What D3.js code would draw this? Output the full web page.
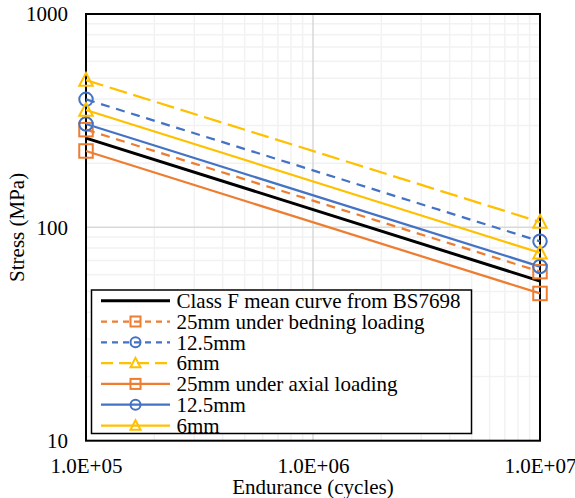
<!DOCTYPE html>
<html>
<head>
<meta charset="utf-8">
<script src="https://cdn.jsdelivr.net/npm/d3@7"></script>
<style>
  body { margin: 0; background: #fff; }
</style>
</head>
<body>
<div id="chart"></div>
<script>
// Chart size
var width = 575;
var height = 498;
var margin = { top: 14, right: 35, bottom: 57.3, left: 86 };
var fontFamily = "Liberation Serif";
var fontSize = "21px";

// Data
var cycles = [1e5, 1e7];
var seriesNames = [
    "Class F mean curve from BS7698",
    "25mm under bedning loading",
    "12.5mm",
    "6mm",
    "25mm under axial loading",
    "12.5mm",
    "6mm"
];
var seriesValues = [
    [262, 56],
    [287, 62],
    [398, 86],
    [490, 106],
    [228, 49],
    [305, 65.5],
    [355, 76]
];
var seriesColors = ["#000000", "#ED7D31", "#4472C4", "#FFC000", "#ED7D31", "#4472C4", "#FFC000"];
var seriesDash = [null, "9,6.75", "9,6.75", "18,6.75", null, null, null];
var legendDash = [null, "6,5", "6,5", "12,6", null, null, null];
var seriesMarker = [null, "square", "circle", "triangle", "square", "circle", "triangle"];
var xTicks = [1e5, 1e6, 1e7];
var yTicks = [10, 100, 1000];

var svg = d3.select("#chart")
    .append("svg")
    .attr("width", width)
    .attr("height", height)
    .attr("font-family", fontFamily);

var x = d3.scaleLog()
    .domain([1e5, 1e7])
    .range([margin.left, width - margin.right]);
var y = d3.scaleLog()
    .domain([10, 1000])
    .range([height - margin.bottom, margin.top]);

// Minor and major gridlines
var minorX = [], minorY = [];
[1e5, 1e6].forEach(function(d) { for (var k = 2; k < 10; k++) minorX.push(d * k); });
[10, 100].forEach(function(d) { for (var k = 2; k < 10; k++) minorY.push(d * k); });

var grid = svg.append("g");
grid.selectAll(".mx").data(minorX).enter().append("line")
    .attr("x1", function(d) { return x(d); }).attr("x2", function(d) { return x(d); })
    .attr("y1", y(10)).attr("y2", y(1000))
    .attr("stroke", "#f2f2f2").attr("stroke-width", 1.5);
grid.selectAll(".my").data(minorY).enter().append("line")
    .attr("y1", function(d) { return y(d); }).attr("y2", function(d) { return y(d); })
    .attr("x1", x(1e5)).attr("x2", x(1e7))
    .attr("stroke", "#f2f2f2").attr("stroke-width", 1.5);
grid.append("line")
    .attr("x1", x(1e6)).attr("x2", x(1e6)).attr("y1", y(10)).attr("y2", y(1000))
    .attr("stroke", "#d9d9d9").attr("stroke-width", 1.5);
grid.append("line")
    .attr("y1", y(100)).attr("y2", y(100)).attr("x1", x(1e5)).attr("x2", x(1e7))
    .attr("stroke", "#d9d9d9").attr("stroke-width", 1.5);

// Plot frame
svg.append("rect")
    .attr("x", x(1e5)).attr("y", y(1000))
    .attr("width", x(1e7) - x(1e5)).attr("height", y(10) - y(1000))
    .attr("fill", "none").attr("stroke", "#000").attr("stroke-width", 2);

// Axes labels
var xAxis = svg.append("g")
    .attr("transform", "translate(0," + (y(10) + 14.5) + ")")
    .call(d3.axisBottom(x).tickValues(xTicks).tickSize(0)
        .tickFormat(function(d) { return d.toExponential(1).replace("e+", "E+0"); }));
xAxis.attr("font-family", fontFamily).attr("font-size", fontSize);
xAxis.select(".domain").remove();
xAxis.selectAll("text").attr("fill", "#000");

var yAxis = svg.append("g")
    .attr("transform", "translate(" + (x(1e5) - 15) + ",0)")
    .call(d3.axisLeft(y).tickValues(yTicks).tickSize(0).tickFormat(d3.format("d")));
yAxis.attr("font-family", fontFamily).attr("font-size", fontSize);
yAxis.select(".domain").remove();
yAxis.selectAll("text").attr("fill", "#000");

svg.append("text")
    .attr("x", x(1e6)).attr("y", 493.5)
    .attr("text-anchor", "middle").attr("font-size", fontSize)
    .text("Endurance (cycles)");
svg.append("text")
    .attr("transform", "translate(17," + ((y(10) + y(1000)) / 2) + ") rotate(-90)")
    .attr("dy", "0.35em")
    .attr("text-anchor", "middle").attr("font-size", fontSize)
    .text("Stress (MPa)");

// Marker drawing
function drawMarker(g, type, cx, cy, size, color) {
    var s = size / 2;
    if (type === "square") {
        g.append("rect").attr("x", cx - s).attr("y", cy - s).attr("width", size).attr("height", size)
            .attr("fill", "none").attr("stroke", color).attr("stroke-width", 2);
    } else if (type === "circle") {
        g.append("circle").attr("cx", cx).attr("cy", cy).attr("r", s)
            .attr("fill", "none").attr("stroke", color).attr("stroke-width", 2);
    } else if (type === "triangle") {
        g.append("path")
            .attr("d", "M" + cx + "," + (cy - s * 1.05) + "L" + (cx + s) + "," + (cy + s * 0.85) + "L" + (cx - s) + "," + (cy + s * 0.85) + "Z")
            .attr("fill", "none").attr("stroke", color).attr("stroke-width", 2);
    }
}

// Series lines
var line = d3.line()
    .x(function(d) { return x(d[0]); })
    .y(function(d) { return y(d[1]); });

var lines = svg.append("g");
seriesValues.forEach(function(vals, i) {
    var pts = cycles.map(function(c, j) { return [c, vals[j]]; });
    lines.append("path")
        .datum(pts)
        .attr("d", line)
        .attr("fill", "none")
        .attr("stroke", seriesColors[i])
        .attr("stroke-width", i === 0 ? 3 : 2.25)
        .attr("stroke-dasharray", seriesDash[i]);
});
seriesValues.forEach(function(vals, i) {
    if (!seriesMarker[i]) return;
    cycles.forEach(function(c, j) {
        drawMarker(lines, seriesMarker[i], x(c), y(vals[j]), 13.5, seriesColors[i]);
    });
});

// Legend
var legend = svg.append("g");
legend.append("rect")
    .attr("x", 91.5).attr("y", 290).attr("width", 380).attr("height", 143.5)
    .attr("fill", "#fff").attr("stroke", "#000").attr("stroke-width", 1.5);

var rowH = 20.8;
seriesNames.forEach(function(name, i) {
    var cy = 300.7 + i * rowH;
    legend.append("line")
        .attr("x1", 101).attr("x2", 170).attr("y1", cy).attr("y2", cy)
        .attr("stroke", seriesColors[i])
        .attr("stroke-width", i === 0 ? 3 : 2.25)
        .attr("stroke-dasharray", legendDash[i]);
    if (seriesMarker[i]) {
        drawMarker(legend, seriesMarker[i], 135.5, cy, 10, seriesColors[i]);
    }
    legend.append("text")
        .attr("x", 176.5).attr("y", cy).attr("dy", "0.35em")
        .attr("font-size", fontSize)
        .text(name);
});
</script>
</body>
</html>
